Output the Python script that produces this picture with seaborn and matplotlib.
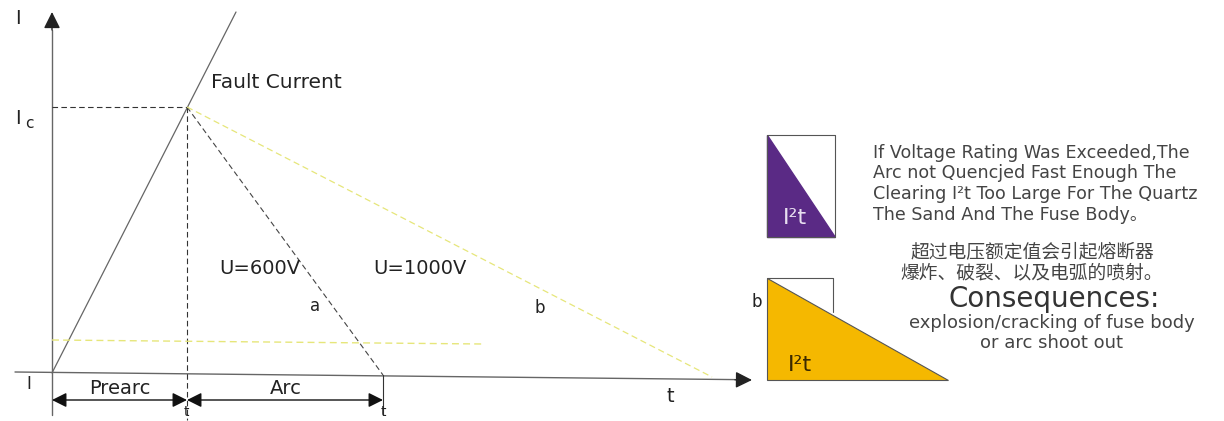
import numpy as np
import pandas as pd
import matplotlib.pyplot as plt
import seaborn as sns

sns.set_theme(style="white")
plt.rcParams['font.family'] = ['DejaVu Sans', 'Noto Sans CJK SC']

# diagram geometry, in picture units (x to the right, y downwards)
origin = (52, 373)
ic_point = (187, 107)
fault_x = [52, 236]
fault_y = [373, 12]
clear_a = (383, 375)      # U=600V clears here
clear_b = (712, 377)      # U=1000V clears here
low_level_x = [52, 483]
low_level_y = [340, 344]

purple_box = [767, 135, 835, 237]
yellow_box = [767, 278, 833, 380]
yellow_tip = 948

note_lines = ["If Voltage Rating Was Exceeded,The",
              "Arc not Quencjed Fast Enough The",
              "Clearing I²t Too Large For The Quartz",
              "The Sand And The Fuse Body。"]
cn_lines = ["超过电压额定值会引起熔断器", "爆炸、破裂、以及电弧的喷射。"]
cons_lines = ["explosion/cracking of fuse body", "or arc shoot out"]

fig = plt.figure(figsize=(12.24, 4.21), dpi=100)
ax = fig.add_axes([0, 0, 1, 1])
ax.set_xlim(0, 1224)
ax.set_ylim(421, 0)
ax.axis('off')

grey = '#666666'
yel = '#e6e67a'

# axes with arrows
ax.plot([52, 52], [30, 415], color=grey, lw=1.0)
ax.plot([15, 735], [372, 379.6], color=grey, lw=1.0)
ax.annotate('', xy=(52, 12), xytext=(52, 30),
            arrowprops=dict(arrowstyle='-|>', color='#222222', lw=1.0, mutation_scale=25, shrinkA=0, shrinkB=0))
ax.annotate('', xy=(752, 380), xytext=(735, 379.8),
            arrowprops=dict(arrowstyle='-|>', color='#222222', lw=1.0, mutation_scale=25, shrinkA=0, shrinkB=0))

# fault current
sns.lineplot(x=fault_x, y=fault_y, ax=ax, color=grey, lw=0.9)
# Ic guide lines
sns.lineplot(x=[origin[0], ic_point[0]], y=[ic_point[1], ic_point[1]], ax=ax,
             color='#333333', lw=0.8, linestyle=(0, (5, 3)))
ax.plot([ic_point[0], ic_point[0]], [ic_point[1], 420], color='#333333', lw=0.8, linestyle=(0, (5, 3)))
# clearing lines
ax.plot([ic_point[0], clear_a[0]], [ic_point[1], clear_a[1]], color='#444444', lw=0.8, linestyle=(0, (5, 3)))
ax.plot([ic_point[0], clear_b[0]], [ic_point[1], clear_b[1]], color=yel, lw=0.9, linestyle=(0, (5, 3)))
ax.plot(low_level_x, low_level_y, color=yel, lw=1.0, linestyle=(0, (5, 3)))
ax.plot([clear_a[0], clear_a[0]], [clear_a[1], 415], color='#333333', lw=0.8)

# Prearc / Arc arrows
for x0, x1 in [(origin[0], ic_point[0]), (ic_point[0], clear_a[0])]:
    ax.annotate('', xy=(x0, 400), xytext=(x1, 400),
                arrowprops=dict(arrowstyle='<|-|>', color='#111111', lw=1.0, mutation_scale=22, shrinkA=0, shrinkB=0))

txt = dict(color='#222222', ha='center', va='center')
ax.text(18, 18, 'I', fontsize=14, **txt)
ax.text(18, 118, 'I', fontsize=14, **txt)
ax.text(29, 124, 'c', fontsize=11, **txt)
ax.text(276, 83, 'Fault Current', fontsize=14.5, **txt)
ax.text(260, 268, 'U=600V', fontsize=14, **txt)
ax.text(420, 268, 'U=1000V', fontsize=14, **txt)
ax.text(315, 306, 'a', fontsize=12, **txt)
ax.text(540, 308, 'b', fontsize=12, **txt)
ax.text(29, 384, 'I', fontsize=12, **txt)
ax.text(120, 388, 'Prearc', fontsize=14, **txt)
ax.text(286, 388, 'Arc', fontsize=14, **txt)
ax.text(186, 412, 't', fontsize=10, **txt)
ax.text(383, 412, 't', fontsize=10, **txt)
ax.text(670, 396, 't', fontsize=14, **txt)

# purple I2t box
x0, y0, x1, y1 = purple_box
ax.plot([x0, x1, x1, x0, x0], [y0, y0, y1, y1, y0], color='#555555', lw=0.8)
ax.fill([x0, x0, x1], [y0, y1, y1], color='#5a2a85')
ax.text(795, 218, 'I²t', fontsize=16, color='#e8dff0', ha='center', va='center')

# yellow I2t box
x0, y0, x1, y1 = yellow_box
ax.plot([x0, x1, x1], [y0, y0, 312], color='#555555', lw=0.8)
ax.fill([x0, x0, yellow_tip], [y0, y1, y1], color='#f5b800', ec='#555555', lw=0.8)
ax.text(757, 302, 'b', fontsize=12, **txt)
ax.text(800, 365, 'I²t', fontsize=16, color='#3a2a00', ha='center', va='center')

for i, line in enumerate(note_lines):
    ax.text(873, 153 + i * 20.5, line, fontsize=12.6, color='#444444', ha='left', va='center')
for i, line in enumerate(cn_lines):
    ax.text(1032, 253 + i * 19.5, line, fontsize=13.5, color='#444444', ha='center', va='center')
ax.text(1054, 299, 'Consequences:', fontsize=20, color='#333333', ha='center', va='center')
for i, line in enumerate(cons_lines):
    ax.text(1052, 323 + i * 20, line, fontsize=13, color='#444444', ha='center', va='center')

plt.savefig('out.png', dpi=100)
